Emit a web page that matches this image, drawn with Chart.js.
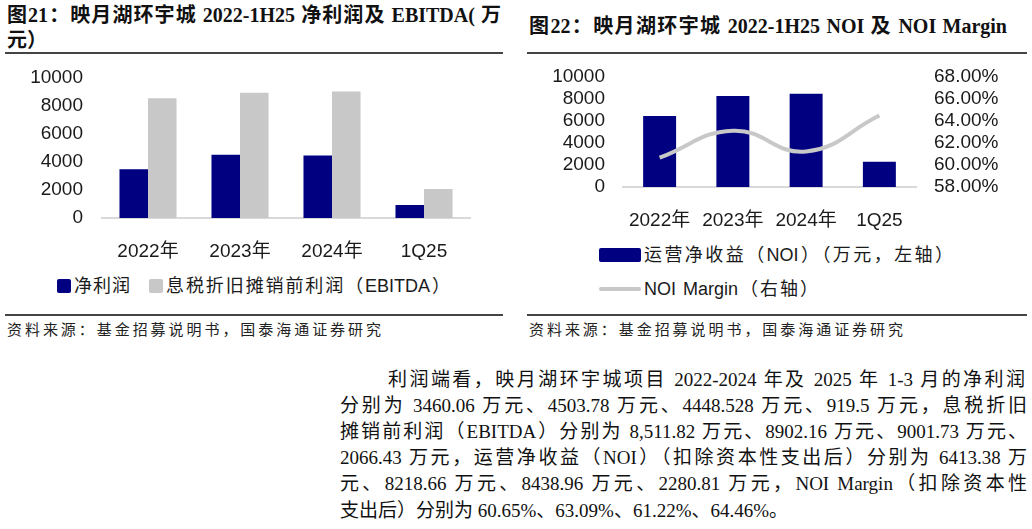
<html>
<head>
<meta charset="utf-8">
<title>映月湖环宇城 净利润 EBITDA NOI</title>
<script src="https://cdn.jsdelivr.net/npm/chart.js"></script>
<style>
    body { margin: 0; width: 1032px; height: 529px; background: #fff; position: relative; overflow: hidden;
           font-family: "Liberation Sans", "Noto Sans CJK SC", sans-serif; color: #1a1a1a; }
    .abs { position: absolute; white-space: nowrap; }
    .title { font-family: "Liberation Serif", "Noto Sans CJK SC", serif; font-weight: bold; font-size: 20px; color: #111;
             text-align: justify; text-align-last: justify; }
    .rule { position: absolute; height: 2px; background: #444; }
    .src { font-family: "Noto Sans CJK SC", sans-serif; font-size: 15px; color: #222; text-align: justify; text-align-last: justify; }
    .leg { font-family: "Liberation Sans", "Noto Sans CJK SC", sans-serif; font-size: 18px; color: #1a1a1a; line-height: 20px;
           text-align: justify; text-align-last: justify; }
    .box { position: absolute; border-radius: 2px; }
    .para { font-family: "Liberation Serif", "Noto Sans CJK SC", serif; font-size: 19px; color: #111; line-height: 26px;
            text-align: justify; text-align-last: justify; }
    .chartbox { position: absolute; }
</style>
</head>
<body>
    <!-- left panel -->
    <div class="abs title" style="left:7px; top:3px; width:494px; line-height:24px;">图21：映月湖环宇城 2022-1H25 净利润及 EBITDA( 万</div>
    <div class="abs title" style="left:7px; top:28px; line-height:24px; text-align:left; text-align-last:left;">元）</div>
    <div class="rule" style="left:5px; top:52px; width:498px;"></div>
    <div class="chartbox" style="left:0; top:47px; width:505px; height:213px;"><canvas id="leftChart"></canvas></div>
    <div class="box" style="left:57px; top:279px; width:14px; height:14px; background:#000080;"></div>
    <div class="abs leg" style="left:74px; top:276px; width:56px;">净利润</div>
    <div class="box" style="left:149px; top:279px; width:14px; height:14px; background:#c8c8c8;"></div>
    <div class="abs leg" style="left:166px; top:276px; width:284px;">息税折旧摊销前利润（EBITDA）</div>
    <div class="rule" style="left:5px; top:314px; width:498px;"></div>
    <div class="abs src" style="left:7px; top:318px; width:374px;">资料来源：基金招募说明书，国泰海通证券研究</div>

    <!-- right panel -->
    <div class="abs title" style="left:529px; top:14px; width:478px; line-height:24px;">图22：映月湖环宇城 2022-1H25 NOI 及 NOI Margin</div>
    <div class="rule" style="left:527px; top:52px; width:500px;"></div>
    <div class="chartbox" style="left:516px; top:47px; width:516px; height:183px;"><canvas id="rightChart"></canvas></div>
    <div class="box" style="left:599px; top:248px; width:42px; height:14px; background:#000080;"></div>
    <div class="abs leg" style="left:644px; top:245px; width:309px;">运营净收益（NOI）（万元，左轴）</div>
    <div class="box" style="left:599px; top:287px; width:42px; height:4px; background:#c8c8c8;"></div>
    <div class="abs leg" style="left:644px; top:279px; width:174px;">NOI Margin（右轴）</div>
    <div class="rule" style="left:527px; top:314px; width:500px;"></div>
    <div class="abs src" style="left:529px; top:318px; width:374px;">资料来源：基金招募说明书，国泰海通证券研究</div>

    <!-- paragraph -->
    <div class="abs para" style="left:388px; top:367px; width:637px;">利润端看，映月湖环宇城项目 2022-2024 年及 2025 年 1-3 月的净利润</div>
    <div class="abs para" style="left:340px; top:393px; width:687px;">分别为 3460.06 万元、4503.78 万元、4448.528 万元、919.5 万元，息税折旧</div>
    <div class="abs para" style="left:340px; top:419px; width:687px;">摊销前利润（EBITDA）分别为 8,511.82 万元、8902.16 万元、9001.73 万元、</div>
    <div class="abs para" style="left:340px; top:445px; width:687px;">2066.43 万元，运营净收益（NOI）（扣除资本性支出后）分别为 6413.38 万</div>
    <div class="abs para" style="left:340px; top:471px; width:687px;">元、8218.66 万元、8438.96 万元、2280.81 万元，NOI Margin（扣除资本性</div>
    <div class="abs para" style="left:340px; top:498px; text-align:left; text-align-last:left;">支出后）分别为 60.65%、63.09%、61.22%、64.46%。</div>

<script>
    const categories = ['2022年', '2023年', '2024年', '1Q25'];
    const netProfit = [3460.06, 4503.78, 4448.528, 919.5];
    const ebitda = [8511.82, 8902.16, 9001.73, 2066.43];
    const noi = [6413.38, 8218.66, 8438.96, 2280.81];
    const noiMargin = [60.65, 63.09, 61.22, 64.46];

    const tickFont = { family: '"Liberation Sans", "Noto Sans CJK SC", sans-serif', size: 19 };
    const tickColor = '#1a1a1a';

    function fixWidth(w) { return scale => { scale.width = w; }; }
    function fixHeight(h) { return scale => { scale.height = h; }; }

    new Chart(document.getElementById('leftChart'), {
        type: 'bar',
        data: {
            labels: categories,
            datasets: [
                { label: '净利润', data: netProfit, backgroundColor: '#000080', barPercentage: 1, categoryPercentage: 0.62 },
                { label: '息税折旧摊销前利润（EBITDA）', data: ebitda, backgroundColor: '#c8c8c8', barPercentage: 1, categoryPercentage: 0.62 }
            ]
        },
        options: {
            responsive: true,
            maintainAspectRatio: false,
            animation: false,
            layout: { padding: { top: 2, right: 35, left: 0, bottom: 0 } },
            plugins: { legend: { display: false }, tooltip: { enabled: false } },
            scales: {
                x: {
                    grid: { display: false },
                    border: { display: true, color: '#d9d9d9', width: 2 },
                    ticks: { font: tickFont, color: tickColor, padding: 14, maxRotation: 0 },
                    afterFit: fixHeight(42)
                },
                y: {
                    min: 0, max: 10000,
                    grid: { display: false, drawTicks: false },
                    border: { display: false },
                    ticks: { stepSize: 2000, autoSkip: false, font: tickFont, color: tickColor, padding: 19,
                             callback: v => String(v) },
                    afterFit: fixWidth(102)
                }
            }
        }
    });

    new Chart(document.getElementById('rightChart'), {
        type: 'bar',
        data: {
            labels: categories,
            datasets: [
                { type: 'line', label: 'NOI Margin（右轴）', data: noiMargin, yAxisID: 'y1', borderColor: '#c8c8c8',
                  borderWidth: 4, pointRadius: 0, tension: 0.45, fill: false, order: 0 },
                { label: '运营净收益（NOI）（万元，左轴）', data: noi, yAxisID: 'y', backgroundColor: '#000080',
                  barPercentage: 0.9, categoryPercentage: 0.5, order: 1 }
            ]
        },
        options: {
            responsive: true,
            maintainAspectRatio: false,
            animation: false,
            layout: { padding: { top: 2, right: 0, left: 0, bottom: 0 } },
            plugins: { legend: { display: false }, tooltip: { enabled: false } },
            scales: {
                x: {
                    grid: { display: false },
                    border: { display: true, color: '#d9d9d9', width: 2 },
                    ticks: { font: tickFont, color: tickColor, padding: 14, maxRotation: 0 },
                    afterFit: fixHeight(43)
                },
                y: {
                    position: 'left',
                    min: 0, max: 10000,
                    grid: { display: false, drawTicks: false },
                    border: { display: false },
                    ticks: { stepSize: 2000, autoSkip: false, font: tickFont, color: tickColor, padding: 18,
                             callback: v => String(v) },
                    afterFit: fixWidth(107)
                },
                y1: {
                    position: 'right',
                    min: 58, max: 68,
                    grid: { display: false, drawTicks: false },
                    border: { display: false },
                    ticks: { stepSize: 2, autoSkip: false, font: tickFont, color: tickColor, padding: 18,
                             callback: v => v.toFixed(2) + '%' },
                    afterFit: fixWidth(116)
                }
            }
        }
    });
</script>
</body>
</html>
